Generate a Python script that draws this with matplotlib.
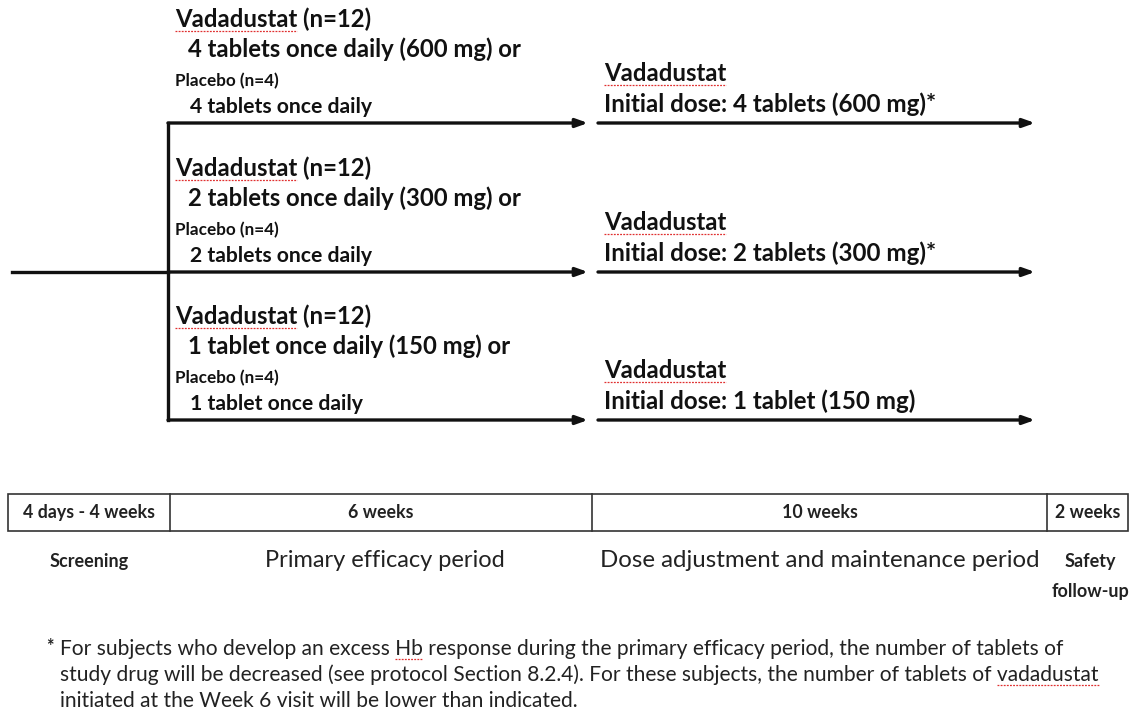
import matplotlib as mpl; mpl.use("Agg")
import matplotlib.pyplot as plt

# ---- content ----
TABLETS = [4, 2, 1]
DOSE_MG = [600, 300, 150]
N_ACTIVE = [12, 12, 12]
N_PLACEBO = [4, 4, 4]
STAR = ["*", "*", ""]
DURATIONS = ["4 days - 4 weeks", "6 weeks", "10 weeks", "2 weeks"]
PERIODS = [["Screening"], ["Primary efficacy period"], ["Dose adjustment and maintenance period"], ["Safety", "follow-up"]]
FOOTNOTE = ["For subjects who develop an excess Hb response during the primary efficacy period, the number of tablets of",
            "study drug will be decreased (see protocol Section 8.2.4). For these subjects, the number of tablets of vadadustat",
            "initiated at the Week 6 visit will be lower than indicated."]
FLAGGED = [(0, "Hb"), (1, "vadadustat")]  # words with spell-check underline in the footnote

# ---- layout (pixel space) ----
W, H = 1136, 717
ARM_Y = [123, 272, 420]
X_SPLIT, X_MID, X_END = 168, 592, 1035
BOX = [8, 170, 592, 1047, 1128]
BOX_Y0, BOX_Y1 = 494, 531
FONT = "Lato"
K = "#111111"
RED = "#e03030"

mpl.rcParams.update({"font.family": FONT})
fig = plt.figure(figsize=(W / 100, H / 100), dpi=100)
ax = fig.add_axes([0, 0, 1, 1])
ax.set_xlim(0, W); ax.set_ylim(H, 0); ax.axis("off")
r = fig.canvas.get_renderer()

def arrow(x0, x1, y):
    ax.annotate("", xy=(x1, y), xytext=(x0, y), xycoords="data",
                arrowprops=dict(arrowstyle="-|>,head_length=0.7,head_width=0.25", color=K, lw=2.4,
                                shrinkA=0, shrinkB=0))

def txt(x, y, s, size, weight="bold", ha="left", **kw):
    return ax.text(x, y, s, fontsize=size, fontweight=weight, ha=ha, va="baseline", color=K, **kw)

def width_px(s, size, weight):
    t = ax.text(0, 0, s, fontsize=size, fontweight=weight)
    w = t.get_window_extent(r).width; t.remove()
    return w

def squiggle(x0, x1, y):
    ax.plot([x0, x1], [y, y], color=RED, lw=0.9, ls=(0, (1.5, 1.0)))

def squiggle_word(t, word):
    s = t.get_text(); i = s.index(word)
    sz, wt = t.get_fontsize(), t.get_fontweight()
    bb = t.get_window_extent(r)
    x0 = bb.x0 + (width_px(s[:i], sz, wt) if i else 0)
    x1 = x0 + width_px(word, sz, wt)
    squiggle(x0, x1, t.get_position()[1] + 4)

# main entry line and split
ax.plot([12, X_SPLIT], [ARM_Y[1], ARM_Y[1]], color=K, lw=2.4)
ax.plot([X_SPLIT, X_SPLIT], [ARM_Y[0], ARM_Y[2]], color=K, lw=2.4)

for i, y in enumerate(ARM_Y):
    arrow(X_SPLIT, 588, y)
    arrow(598, X_END, y)
    tab = f"{TABLETS[i]} tablet" + ("s" if TABLETS[i] > 1 else "")
    t = txt(175, y - 96, f"Vadadustat (n={N_ACTIVE[i]})", 17.2)
    squiggle_word(t, "Vadadustat")
    txt(188, y - 66, f"{tab} once daily ({DOSE_MG[i]} mg) or", 17.2)
    txt(175, y - 37, f"Placebo (n={N_PLACEBO[i]})", 12.3)
    txt(190, y - 10, f"{tab} once daily", 15.2)
    t = txt(604, y - 42, "Vadadustat", 17.2)
    squiggle_word(t, "Vadadustat")
    txt(604, y - 11, f"Initial dose: {tab} ({DOSE_MG[i]} mg){STAR[i]}", 17.4)

# timeline box
ax.add_patch(plt.Rectangle((BOX[0], BOX_Y0), BOX[-1] - BOX[0], BOX_Y1 - BOX_Y0, fill=False, ec="#333333", lw=1.2))
for xb in BOX[1:-1]:
    ax.plot([xb, xb], [BOX_Y0, BOX_Y1], color="#333333", lw=1.2)
for j, d in enumerate(DURATIONS):
    xc = (BOX[j] + BOX[j + 1]) / 2
    ax.text(xc, 518, d, fontsize=12.8, fontweight="bold", ha="center", va="baseline", color="#222222")

PERIOD_X = [89, 385, 820, 1090]
PERIOD_STYLE = [(13, "bold"), (17, "normal"), (17.3, "normal"), (13, "bold")]
for j, lines in enumerate(PERIODS):
    sz, wt = PERIOD_STYLE[j]
    for k, p in enumerate(lines):
        ax.text(PERIOD_X[j], 567 + 30 * k, p, fontsize=sz, fontweight=wt, ha="center", va="baseline",
                color="#222222")

# footnote
ax.text(46, 652, "*", fontsize=13, fontweight="bold", ha="left", va="baseline", color="#222222")
fn = []
for k, line in enumerate(FOOTNOTE):
    fn.append(ax.text(60, 655 + 26 * k, line, fontsize=15.1, ha="left", va="baseline", color="#222222"))
for k, word in FLAGGED:
    squiggle_word(fn[k], word)

fig.savefig("out.png", dpi=100)
